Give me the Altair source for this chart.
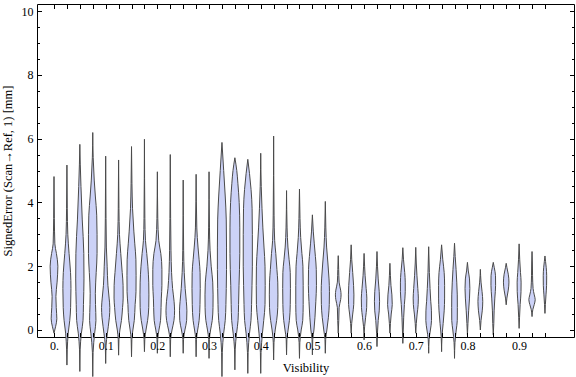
import altair as alt
import pandas as pd

# Visibility bins (violin centres)
visibility = [0.0, 0.025, 0.05, 0.075, 0.1, 0.125, 0.15, 0.175, 0.2, 0.225,
              0.25, 0.275, 0.3, 0.325, 0.35, 0.375, 0.4, 0.425, 0.45, 0.475,
              0.5, 0.525, 0.55, 0.575, 0.6, 0.625, 0.65, 0.675, 0.7, 0.725,
              0.75, 0.775, 0.8, 0.825, 0.85, 0.875, 0.9, 0.925, 0.95]

# Violin outlines: error levels [mm] and the density (half-width) read at each level
levels = [
    [-0.1, 0.1, 0.35, 0.7, 1.05, 1.5, 2.0, 2.4, 2.7, 3.5, 4.81],
    [-1.1, -0.6, -0.1, 0.3, 0.7, 1.3, 1.8, 2.4, 3.0, 3.8, 5.17],
    [-1.3, -0.6, -0.1, 0.3, 0.8, 1.6, 2.4, 3.45, 4.5, 5.2, 5.82],
    [-1.46, -0.7, -0.1, 0.3, 0.8, 1.15, 1.8, 2.4, 3.0, 3.6, 4.2, 4.7, 5.4, 6.19],
    [-1.05, -0.5, -0.1, 0.1, 0.4, 0.7, 1.0, 1.4, 2.0, 2.6, 3.5, 5.45],
    [-0.79, -0.3, 0.0, 0.3, 0.7, 1.0, 1.4, 1.8, 2.4, 3.0, 3.8, 5.33],
    [-0.84, -0.3, 0.0, 0.3, 0.8, 1.2, 1.7, 2.2, 2.7, 3.1, 3.8, 4.6, 5.75],
    [-0.68, -0.3, 0.0, 0.3, 0.7, 1.1, 1.5, 2.0, 2.4, 2.8, 3.5, 5.98],
    [-0.73, -0.3, 0.0, 0.3, 0.7, 1.0, 1.4, 1.9, 2.4, 2.8, 3.5, 4.96],
    [-0.84, -0.3, 0.0, 0.3, 0.6, 0.9, 1.3, 1.8, 2.5, 3.5, 5.5],
    [-0.73, -0.3, 0.0, 0.3, 0.6, 0.9, 1.3, 1.8, 2.5, 4.7],
    [-0.84, -0.3, 0.0, 0.3, 0.8, 1.3, 1.8, 2.2, 2.6, 3.2, 4.88],
    [-0.89, -0.3, 0.0, 0.3, 0.7, 1.1, 1.5, 2.0, 2.5, 3.2, 4.96],
    [-1.46, -0.7, -0.1, 0.3, 0.8, 1.3, 1.9, 2.6, 3.45, 4.2, 5.0, 5.88],
    [-1.25, -0.6, -0.1, 0.3, 0.8, 1.4, 2.4, 3.2, 4.0, 4.6, 5.0, 5.4],
    [-1.36, -0.7, -0.1, 0.3, 0.8, 1.4, 2.0, 3.0, 3.8, 4.4, 4.9, 5.35],
    [-1.36, -0.7, -0.1, 0.3, 0.8, 1.4, 2.0, 2.6, 3.2, 3.8, 4.5, 5.54],
    [-0.94, -0.4, 0.0, 0.3, 0.7, 1.1, 1.5, 1.9, 2.4, 2.8, 3.6, 6.08],
    [-0.78, -0.3, 0.0, 0.3, 0.8, 1.3, 1.8, 2.2, 2.6, 3.2, 4.37],
    [-0.89, -0.4, 0.0, 0.3, 0.8, 1.4, 2.0, 2.4, 2.9, 3.5, 4.42],
    [-0.78, -0.3, 0.0, 0.4, 0.9, 1.4, 1.9, 2.3, 2.7, 3.1, 3.61],
    [-0.73, -0.3, 0.0, 0.4, 0.8, 1.2, 1.6, 2.1, 2.6, 3.2, 4.03],
    [-0.1, 0.3, 0.7, 0.95, 1.1, 1.25, 1.5, 1.9, 2.33],
    [-0.1, 0.2, 0.5, 0.8, 1.1, 1.4, 1.8, 2.2, 2.67],
    [-0.31, 0.1, 0.4, 0.7, 1.0, 1.3, 1.7, 2.0, 2.4],
    [-0.52, -0.1, 0.3, 0.6, 0.9, 1.2, 1.6, 2.0, 2.46],
    [-0.1, 0.2, 0.5, 0.8, 1.1, 1.4, 1.7, 2.09],
    [-0.42, 0.0, 0.4, 0.8, 1.2, 1.5, 1.8, 2.2, 2.58],
    [-0.1, 0.2, 0.5, 0.8, 1.0, 1.3, 1.7, 2.1, 2.59],
    [-0.73, -0.3, 0.0, 0.3, 0.6, 0.9, 1.3, 1.8, 2.61],
    [-0.68, -0.2, 0.2, 0.6, 1.0, 1.4, 1.8, 2.2, 2.67],
    [-0.89, -0.4, 0.0, 0.3, 0.7, 1.1, 1.5, 1.9, 2.3, 2.72],
    [-0.15, 0.2, 0.6, 1.0, 1.3, 1.6, 1.85, 2.12],
    [0.0, 0.3, 0.6, 0.9, 1.2, 1.5, 1.9],
    [-0.15, 0.2, 0.6, 1.0, 1.4, 1.7, 1.95, 2.12],
    [0.79, 1.0, 1.25, 1.5, 1.75, 1.95, 2.09],
    [0.05, 0.4, 0.8, 1.2, 1.5, 1.8, 2.2, 2.7],
    [0.42, 0.65, 0.8, 0.95, 1.1, 1.3, 1.7, 2.1, 2.46],
    [0.52, 0.8, 1.1, 1.4, 1.7, 1.95, 2.15, 2.32],
]

densities = [
    [0, 1.8, 3.3, 2.6, 2.2, 3.6, 4.5, 2.8, 1.0, 0.4, 0],
    [0, 0.4, 1.5, 3.3, 4.3, 4.7, 4.2, 2.5, 1.0, 0.4, 0],
    [0, 0.4, 1.8, 3.7, 4.2, 4.8, 4.6, 2.8, 1.3, 0.5, 0],
    [0, 0.4, 2.2, 3.7, 3.2, 3.0, 4.0, 5.0, 5.0, 4.6, 3.0, 1.7, 0.5, 0],
    [0, 0.4, 2.0, 3.0, 4.3, 4.8, 4.0, 2.6, 1.7, 0.8, 0.4, 0],
    [0, 0.4, 1.5, 3.3, 4.6, 5.3, 5.2, 4.2, 2.5, 1.0, 0.4, 0],
    [0, 0.4, 1.6, 3.2, 4.2, 5.2, 5.3, 5.1, 3.8, 2.7, 1.2, 0.5, 0],
    [0, 0.4, 1.8, 3.7, 5.0, 5.2, 5.0, 4.0, 2.7, 1.2, 0.5, 0],
    [0, 0.4, 1.8, 3.7, 4.3, 4.6, 5.3, 5.3, 4.0, 1.6, 0.5, 0],
    [0, 0.4, 2.0, 4.3, 5.0, 4.4, 2.7, 1.5, 0.8, 0.4, 0],
    [0, 0.4, 2.0, 4.0, 4.3, 3.6, 2.3, 1.2, 0.5, 0],
    [0, 0.4, 1.8, 3.5, 4.5, 4.8, 4.6, 3.5, 2.2, 0.8, 0],
    [0, 0.4, 1.8, 3.7, 4.6, 4.7, 4.3, 2.5, 1.2, 0.5, 0],
    [0, 0.4, 2.0, 3.8, 4.6, 5.0, 5.3, 5.3, 5.0, 3.8, 2.0, 0],
    [0, 0.4, 2.0, 3.7, 4.3, 4.8, 5.7, 5.7, 5.0, 3.5, 2.2, 0],
    [0, 0.4, 2.0, 3.7, 4.4, 4.9, 5.3, 5.3, 5.0, 3.8, 2.0, 0],
    [0, 0.4, 2.0, 3.5, 5.0, 5.2, 5.0, 3.8, 2.5, 1.5, 0.6, 0],
    [0, 0.4, 1.8, 3.5, 4.8, 5.0, 4.8, 3.8, 2.5, 1.2, 0.5, 0],
    [0, 0.4, 1.8, 3.3, 4.3, 4.5, 4.3, 3.0, 1.6, 0.6, 0],
    [0, 0.4, 2.0, 3.8, 4.3, 4.3, 4.0, 2.8, 1.4, 0.6, 0],
    [0, 0.4, 1.8, 3.0, 4.0, 4.7, 4.5, 3.5, 2.2, 1.0, 0],
    [0, 0.4, 1.8, 3.6, 4.6, 4.8, 4.3, 3.0, 1.5, 0.6, 0],
    [0, 0.6, 1.0, 2.8, 3.3, 2.8, 1.0, 0.5, 0],
    [0, 0.6, 1.8, 3.0, 3.2, 2.8, 1.8, 0.7, 0],
    [0, 0.6, 1.8, 3.0, 3.2, 2.4, 1.2, 0.6, 0],
    [0, 0.5, 1.4, 2.6, 3.0, 2.6, 1.4, 0.6, 0],
    [0, 0.6, 1.5, 2.7, 2.3, 1.2, 0.6, 0],
    [0, 0.5, 1.0, 1.8, 2.8, 2.8, 2.2, 0.8, 0],
    [0, 0.6, 1.6, 2.8, 3.0, 2.4, 1.4, 0.6, 0],
    [0, 0.5, 2.0, 3.3, 3.2, 2.4, 1.6, 0.8, 0],
    [0, 0.5, 1.8, 3.0, 3.5, 3.5, 3.0, 1.4, 0],
    [0, 0.5, 2.0, 3.2, 3.3, 3.2, 2.6, 1.8, 0.8, 0],
    [0, 0.6, 1.4, 2.4, 2.8, 2.4, 1.0, 0],
    [0, 0.8, 2.2, 2.8, 2.0, 0.8, 0],
    [0, 0.6, 1.0, 1.8, 2.7, 2.6, 1.2, 0],
    [0, 0.8, 2.4, 3.2, 2.4, 0.9, 0],
    [0, 0.5, 1.2, 2.2, 2.3, 1.6, 0.7, 0],
    [0, 1.0, 2.6, 3.7, 2.6, 1.2, 0.6, 0.4, 0],
    [0, 0.5, 1.2, 1.9, 2.0, 1.5, 0.7, 0],
]

y_major = [0, 2, 4, 6, 8, 10]
y_minor = [0, 0.5, 1, 1.5, 2, 2.5, 3, 3.5, 4, 4.5, 5, 5.5, 6, 6.5, 7, 7.5,
           8, 8.5, 9, 9.5, 10]

rows = []
for vis, lv, dn in zip(visibility, levels, densities):
    for l, d in zip(lv, dn):
        rows.append({"visibility": vis, "level": l, "density": d})
df = pd.DataFrame(rows)

FONT = "Liberation Serif"
WIDTH_SCALE = 0.86 / 516.8  # density unit -> x data units

x_scale = alt.Scale(domain=[-0.0329, 1.0062], nice=False, zero=False)
y_scale = alt.Scale(domain=[-0.22, 10.22], nice=False, zero=False)

common = dict(domain=False, grid=False, tickColor="black", tickWidth=1,
              zindex=1, labelFont=FONT, labelColor="black",
              titleFont=FONT, titleColor="black", titleFontWeight="normal")

label_expr = ("abs(datum.value * 10 - round(datum.value * 10)) < 0.001 ? "
              "(datum.value == 0 ? '0.' : format(datum.value, '.1f')) : ''")

bottom_axis = alt.Axis(orient="bottom", values=visibility, offset=-4.5,
                       tickSize=4.5, labelExpr=label_expr, labelFontSize=12,
                       labelPadding=3, labelOverlap=False, labelFlush=False,
                       title="Visibility", titleFontSize=12.5, titlePadding=10,
                       **common)
top_axis = alt.Axis(orient="top", values=visibility, offset=-4.5, tickSize=4.5,
                    labels=False, title=None, **common)
left_major = alt.Axis(orient="left", values=y_major, offset=-4.5, tickSize=4.5,
                      format="d", labelFontSize=12, labelPadding=4,
                      labelOverlap=False, labelFlush=False,
                      title="SignedError (Scan\u2192Ref, 1) [mm]",
                      titleFontSize=12.5, titlePadding=7, **common)
right_major = alt.Axis(orient="right", values=y_major, offset=-4.5,
                       tickSize=4.5, labels=False, title=None, **common)
left_minor = alt.Axis(orient="left", values=y_minor, offset=-2.5, tickSize=2.5,
                      labels=False, title=None, **common)
right_minor = alt.Axis(orient="right", values=y_minor, offset=-2.5,
                       tickSize=2.5, labels=False, title=None, **common)

base = alt.Chart(df).transform_calculate(
    left=f"datum.visibility - datum.density * {WIDTH_SCALE}",
    right=f"datum.visibility + datum.density * {WIDTH_SCALE}",
)

violins = base.mark_area(
    orient="horizontal", interpolate="monotone",
    fill="#ccd2f7", stroke="#4a4a4a", strokeWidth=1,
).encode(
    x=alt.X("left:Q", scale=x_scale, axis=bottom_axis),
    x2="right:Q",
    y=alt.Y("level:Q", scale=y_scale, axis=left_major),
    detail="visibility:N",
)

guide2 = base.mark_point(opacity=0).encode(
    x=alt.X("left:Q", scale=x_scale, axis=top_axis),
    y=alt.Y("level:Q", scale=y_scale, axis=right_major),
)
guide3 = base.mark_point(opacity=0).encode(
    x=alt.X("left:Q", scale=x_scale, axis=None),
    y=alt.Y("level:Q", scale=y_scale, axis=left_minor),
)
guide4 = base.mark_point(opacity=0).encode(
    x=alt.X("left:Q", scale=x_scale, axis=None),
    y=alt.Y("level:Q", scale=y_scale, axis=right_minor),
)

chart = alt.layer(violins, guide2, guide3, guide4).resolve_scale(
    x="shared", y="shared"
).resolve_axis(
    x="independent", y="independent"
).properties(
    width=537, height=333,
    padding={"left": 37, "top": 4, "right": 2, "bottom": 40},
    autosize=alt.AutoSizeParams(type="none"),
    background="white",
).configure_view(stroke="black", strokeWidth=1)

chart.save("out.html", embed_options={"renderer": "svg", "actions": False})
